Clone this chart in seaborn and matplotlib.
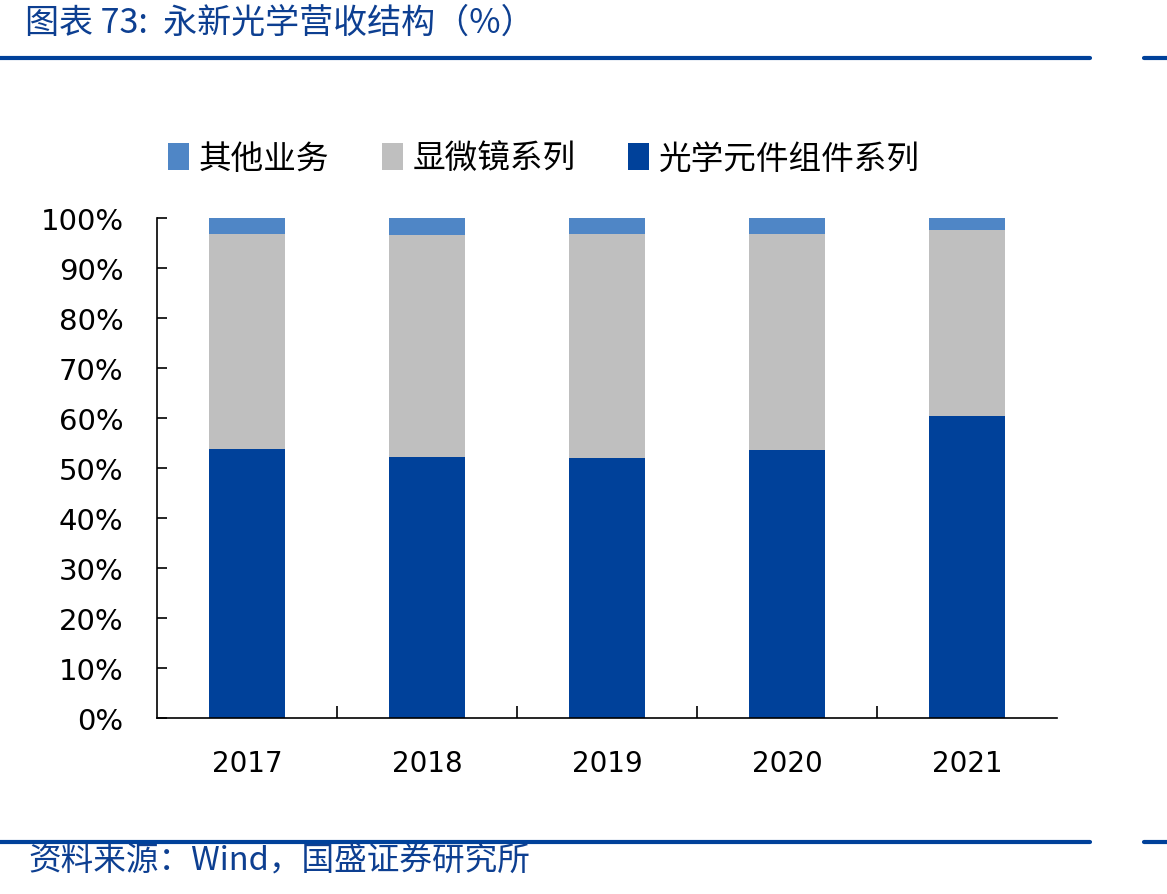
import matplotlib
matplotlib.use("Agg")
import matplotlib.pyplot as plt
import seaborn as sns
from matplotlib.lines import Line2D

years = ["2017", "2018", "2019", "2020", "2021"]
optics = [53.9, 52.3, 52.1, 53.7, 60.5]      # 光学元件组件系列
microscope = [43.0, 44.4, 44.8, 43.2, 37.2]  # 显微镜系列
other = [3.1, 3.3, 3.1, 3.1, 2.3]            # 其他业务
series_names = ["其他业务", "显微镜系列", "光学元件组件系列"]
yticks = [0, 10, 20, 30, 40, 50, 60, 70, 80, 90, 100]

c_other = "#4F86C6"
c_micro = "#BFBFBF"
c_optics = "#00419A"
c_title = "#0D3F91"

sns.set_style("white")
plt.rcParams["font.family"] = ["DejaVu Sans", "Noto Sans CJK SC"]
cjk = ["Noto Sans CJK SC", "DejaVu Sans"]

fig = plt.figure(figsize=(11.67, 8.95), dpi=100)
ax = fig.add_axes([157 / 1167, 1 - 719 / 895, 900 / 1167, 500 / 895])

# stacked totals, drawn back to front
lvl2 = [a + b for a, b in zip(optics, microscope)]
lvl3 = [a + b for a, b in zip(lvl2, other)]
sns.barplot(x=years, y=lvl3, color=c_other, saturation=1, width=0.42,
            ax=ax, label=series_names[0], linewidth=0)
sns.barplot(x=years, y=lvl2, color=c_micro, saturation=1, width=0.42,
            ax=ax, label=series_names[1], linewidth=0)
sns.barplot(x=years, y=optics, color=c_optics, saturation=1, width=0.42,
            ax=ax, label=series_names[2], linewidth=0)

ax.set_xlim(-0.5, 4.5)
ax.set_ylim(0, 100)
ax.set_yticks(yticks)
ax.set_yticklabels([f"{v}%" for v in yticks])
ax.set_xlabel("")
ax.set_ylabel("")
for s in ["top", "right"]:
    ax.spines[s].set_visible(False)
for s in ["left", "bottom"]:
    ax.spines[s].set_color("black")
    ax.spines[s].set_linewidth(1.2)
ax.tick_params(axis="y", left=True, direction="in", length=7, width=1.2,
               pad=24, labelsize=21, colors="black")
ax.tick_params(axis="x", which="major", bottom=True, length=0, pad=22,
               labelsize=20, labelcolor="black")
ax.set_xticks([0.5, 1.5, 2.5, 3.5], minor=True)
ax.tick_params(axis="x", which="minor", bottom=True, direction="in",
               length=9, width=1.2, color="black")

leg = ax.legend(loc="center left", bbox_to_anchor=(168 / 1167, 1 - 160 / 895),
                bbox_transform=fig.transFigure, ncol=3, frameon=False,
                prop={"family": cjk, "size": 23.5}, handlelength=0.65,
                handleheight=0.9, handletextpad=0.3, columnspacing=1.6,
                borderaxespad=0, borderpad=0)
for t in leg.get_texts():
    t.set_color("black")

# header / footer decoration
fig.text(25 / 1167, 1 - 23 / 895, "图表 73:  永新光学营收结构（%）", color=c_title,
         fontsize=24.5, family=cjk, style="italic", va="center", ha="left")
fig.text(28 / 1167, 1 - 862 / 895, "资料来源：Wind，国盛证券研究所", color=c_title,
         fontsize=23.5, family=cjk, style="italic", va="center", ha="left")
for yy in [59, 843]:
    y = 1 - yy / 895
    fig.add_artist(Line2D([0, 1090 / 1167], [y, y], color=c_optics, lw=3))
    fig.add_artist(Line2D([1144 / 1167, 1], [y, y], color=c_optics, lw=3))

fig.savefig("out.png", dpi=100)
